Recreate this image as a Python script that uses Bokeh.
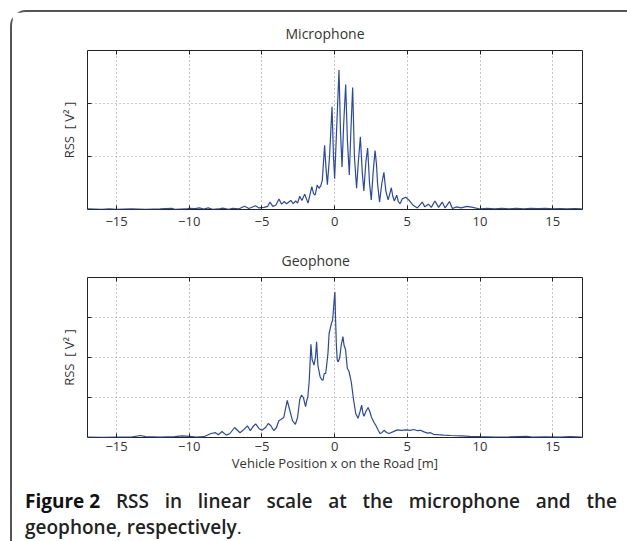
from bokeh.plotting import figure
from bokeh.models import FixedTicker, LinearAxis, Range1d, Div
from bokeh.layouts import column
from bokeh.embed import file_html
from bokeh.resources import INLINE

# ---------------- data ----------------
mic_x = [-17.0, -16.0, -15.5, -15.0, -14.0, -13.0, -12.0, -11.2, -11.0, -10.2, -10.0,
         -9.6, -9.3, -9.0, -8.7, -8.4, -8.0, -7.7, -7.3, -7.0, -6.6, -6.2, -5.9, -5.45,
         -5.2, -4.86, -4.6, -4.45, -4.25, -4.05, -3.83, -3.65, -3.48, -3.3, -3.02, -2.85,
         -2.68, -2.55, -2.4, -2.25, -2.06, -1.83, -1.57, -1.45, -1.34, -1.2, -1.07, -0.95,
         -0.85, -0.69, -0.6, -0.5, -0.35, -0.18, -0.08, 0.0, 0.15, 0.30, 0.40, 0.51, 0.62,
         0.76, 0.88, 1.01, 1.12, 1.24, 1.36, 1.51, 1.63, 1.77, 1.9, 2.01, 2.15, 2.27, 2.4,
         2.52, 2.65, 2.78, 2.88, 2.95, 3.09, 3.25, 3.39, 3.52, 3.68, 3.8, 3.90, 4.0, 4.11,
         4.27, 4.38, 4.5, 4.65, 4.89, 5.1, 5.4, 5.69, 6.03, 6.2, 6.45, 6.65, 6.9, 7.15, 7.4,
         7.6, 7.9, 8.1, 8.4, 8.7, 9.1, 9.5, 10.0, 10.5, 11.0, 11.5, 12.0, 12.5, 13.0, 13.5,
         14.0, 14.5, 15.0, 15.5, 16.0, 16.5, 17.0]
mic_y = [0.01, 0.005, 0.01, 0.005, 0.01, 0.005, 0.01, 0.02, 0.005, 0.01, 0.02,
         0.015, 0.03, 0.01, 0.03, 0.005, 0.01, 0.025, 0.005, 0.02, 0.01, 0.06, 0.02, 0.07,
         0.03, 0.04, 0.06, 0.14, 0.06, 0.08, 0.20, 0.10, 0.15, 0.11, 0.17, 0.11,
         0.16, 0.12, 0.25, 0.17, 0.29, 0.12, 0.43, 0.30, 0.27, 0.46, 0.40, 0.45,
         0.55, 1.21, 0.80, 0.47, 1.00, 1.94, 1.00, 0.58, 1.60, 2.63, 1.50, 0.80, 1.60,
         2.36, 1.30, 0.65, 1.50, 2.30, 1.00, 0.40, 0.90, 1.37, 0.70, 0.35, 0.90, 1.16, 0.50,
         0.18, 0.70, 1.11, 0.85, 0.50, 0.14, 0.50, 0.70, 0.35, 0.18, 0.30, 0.41, 0.25, 0.16,
         0.27, 0.15, 0.11, 0.20, 0.23, 0.18, 0.08, 0.03, 0.14, 0.05, 0.10, 0.04, 0.16, 0.04, 0.14,
         0.03, 0.15, 0.02, 0.05, 0.03, 0.06, 0.04, 0.01, 0.02, 0.01, 0.02, 0.01, 0.02, 0.01, 0.02,
         0.015, 0.02, 0.01, 0.015, 0.01, 0.015, 0.01]

geo_x = [-17.0, -16.0, -15.0, -14.0, -13.35, -13.0, -12.0, -11.0, -10.5, -10.0, -9.5,
         -9.0, -8.5, -8.2, -8.0, -7.75, -7.45, -7.2, -6.88, -6.51, -6.3, -6.0, -5.8, -5.6,
         -5.43, -5.2, -5.0, -4.75, -4.57, -4.4, -4.18, -4.0, -3.84, -3.7, -3.5, -3.26, -3.1,
         -2.9, -2.7, -2.55, -2.4, -2.28, -2.15, -2.0, -1.9, -1.85, -1.75, -1.63, -1.55, -1.42,
         -1.32, -1.24, -1.15, -1.0, -0.9, -0.8, -0.72, -0.62, -0.55, -0.46, -0.38, -0.3,
         -0.22, -0.14, -0.08, -0.03, 0.02, 0.06, 0.12, 0.18, 0.25, 0.35, 0.45, 0.57, 0.65,
         0.75, 0.87, 0.99, 1.08, 1.15, 1.3, 1.45, 1.61, 1.75, 1.86, 1.95, 2.02, 2.15, 2.3,
         2.42, 2.52, 2.7, 2.82, 3.0, 3.12, 3.25, 3.4, 3.55, 3.74, 4.0, 4.31, 4.6, 4.9, 5.2,
         5.46, 5.7, 5.9, 6.15, 6.4, 6.6, 6.8, 7.1, 7.5, 8.0, 8.7, 9.3, 10.0, 11.0, 12.0,
         13.2, 13.6, 14.5, 15.5, 16.2, 17.0]
geo_y = [0.01, 0.005, 0.01, 0.01, 0.05, 0.02, 0.01, 0.02, 0.04, 0.03, 0.01,
         0.02, 0.10, 0.12, 0.07, 0.15, 0.06, 0.10, 0.25, 0.12, 0.18, 0.29, 0.17, 0.28,
         0.34, 0.22, 0.18, 0.25, 0.35, 0.30, 0.17, 0.25, 0.42, 0.45, 0.50, 0.93, 0.70,
         0.42, 0.33, 0.50, 0.95, 1.06, 1.00, 0.77, 0.95, 1.00, 1.40, 2.33, 1.95, 1.81,
         2.00, 2.39, 1.80, 1.52, 1.45, 1.43, 1.60, 1.60, 1.80, 2.10, 2.60, 2.73,
         2.85, 2.93, 3.20, 3.45, 3.64, 3.00, 2.30, 1.93, 1.89, 2.00, 2.30, 2.52, 2.30,
         2.20, 1.73, 1.65, 1.50, 1.37, 0.95, 0.60, 0.48, 0.65, 0.81, 0.60, 0.53, 0.65, 0.75,
         0.65, 0.52, 0.38, 0.31, 0.18, 0.10, 0.12, 0.18, 0.13, 0.10, 0.14, 0.19, 0.18, 0.19, 0.18,
         0.20, 0.17, 0.18, 0.14, 0.11, 0.12, 0.08, 0.07, 0.06, 0.05, 0.04, 0.03, 0.02, 0.01, 0.015,
         0.03, 0.01, 0.015, 0.01, 0.02, 0.01]

x_ticks = [-15, -10, -5, 0, 5, 10, 15]
x_tick_labels = ["\u221215", "\u221210", "\u22125", "0", "5", "10", "15"]
mic_y_ticks = [1, 2]
geo_y_ticks = [1, 2, 3]

top_title = "Microphone"
bottom_title = "Geophone"
y_label = "RSS\u00a0\u00a0[\u00a0V\u00b2\u00a0]"
x_label = "Vehicle Position x on the Road [m]"
caption_bold = "Figure\u00a02"
caption_line1 = "RSS in linear scale at the microphone and the"
caption_line2 = "geophone, respectively"

LINE = "#2b48a6"
TXT = "#333333"
FONT = "Open Sans"


def style_axis(ax, ticks, show_labels):
    ax.axis_line_color = None
    ax.major_tick_in = 4
    ax.major_tick_out = 0
    ax.minor_tick_line_color = None
    ax.major_tick_line_color = "#222222"
    ax.major_label_text_font = FONT
    ax.major_label_text_font_size = "13px"
    ax.major_label_text_color = TXT
    if not show_labels:
        ax.major_label_overrides = {t: "" for t in ticks}
        ax.major_label_standoff = 0


def make_fig(title, title_offset, xs, ys, ymax, yticks, fh, mtop, mbot, xlabel=None):
    p = figure(frame_width=495, frame_height=fh,
               x_range=Range1d(-17.0, 17.05), y_range=Range1d(0, ymax),
               output_backend="svg", toolbar_location=None,
               min_border_left=75, min_border_right=45,
               min_border_top=mtop, min_border_bottom=mbot,
               background_fill_color="white", border_fill_color="white")
    p.outline_line_color = "#222222"
    p.outline_line_width = 1

    p.xaxis.ticker = FixedTicker(ticks=x_ticks)
    style_axis(p.xaxis[0], x_ticks, True)
    p.xaxis.major_label_overrides = {t: l for t, l in zip(x_ticks, x_tick_labels)}
    p.xaxis.major_label_standoff = 7 if xlabel is None else 4
    p.yaxis.ticker = FixedTicker(ticks=yticks)
    style_axis(p.yaxis[0], yticks, False)
    p.yaxis.axis_label = y_label
    p.yaxis.axis_label_text_font = FONT
    p.yaxis.axis_label_text_font_size = "13px"
    p.yaxis.axis_label_text_font_style = "normal"
    p.yaxis.axis_label_text_color = TXT
    p.yaxis.axis_label_standoff = 10

    if xlabel:
        p.xaxis.axis_label = xlabel
        p.xaxis.axis_label_text_font = FONT
        p.xaxis.axis_label_text_font_size = "13px"
        p.xaxis.axis_label_text_font_style = "normal"
        p.xaxis.axis_label_text_color = TXT
        p.xaxis.axis_label_standoff = 0

    top_ax = LinearAxis(ticker=FixedTicker(ticks=x_ticks))
    style_axis(top_ax, x_ticks, False)
    p.add_layout(top_ax, "above")
    right_ax = LinearAxis(ticker=FixedTicker(ticks=yticks))
    style_axis(right_ax, yticks, False)
    p.add_layout(right_ax, "right")

    p.xgrid.grid_line_color = "#8a8a8a"
    p.xgrid.grid_line_dash = "1 3"
    p.ygrid.grid_line_color = "#9a9a9a"
    p.ygrid.grid_line_dash = "1 3"

    p.title.text = title
    p.title.align = "left"
    p.title.offset = title_offset
    p.title.standoff = 15
    p.title.text_font = FONT
    p.title.text_font_size = "14px"
    p.title.text_font_style = "normal"
    p.title.text_color = TXT

    p.line(xs, ys, line_color=LINE, line_width=1.2)
    return p


p1 = make_fig(top_title, 198, mic_x, mic_y, 3, mic_y_ticks, 159, 38, 30)
p2 = make_fig(bottom_title, 194, geo_x, geo_y, 4, geo_y_ticks, 160, 38, 41, xlabel=x_label)

cap_html = ('<div style="font-family:\'Open Sans\',sans-serif;font-size:19px;line-height:26px;'
            'padding:5px 0 0 8px;width:600px;color:#222;">'
            '<div style="white-space:nowrap;display:flex;justify-content:space-between;">'
            '<span style="font-weight:700;color:#111;">' + caption_bold + '</span>'
            + ''.join('<span style="font-weight:600;">' + w + '</span>' for w in caption_line1.split(' '))
            + '</div>'
            '<div><span style="font-weight:600;">' + caption_line2 + '</span>'
            '<span style="font-weight:400;">.</span></div>'
            '</div>')
caption = Div(text=cap_html, width=615, height=63)

layout = column(p1, p2, caption, margin=(10, 0, 0, 10), spacing=0,
                styles={"border-left": "2px solid #555555",
                        "border-top": "2px solid #555555",
                        "border-top-left-radius": "16px"})

open("out.html", "w").write(file_html(layout, INLINE))
